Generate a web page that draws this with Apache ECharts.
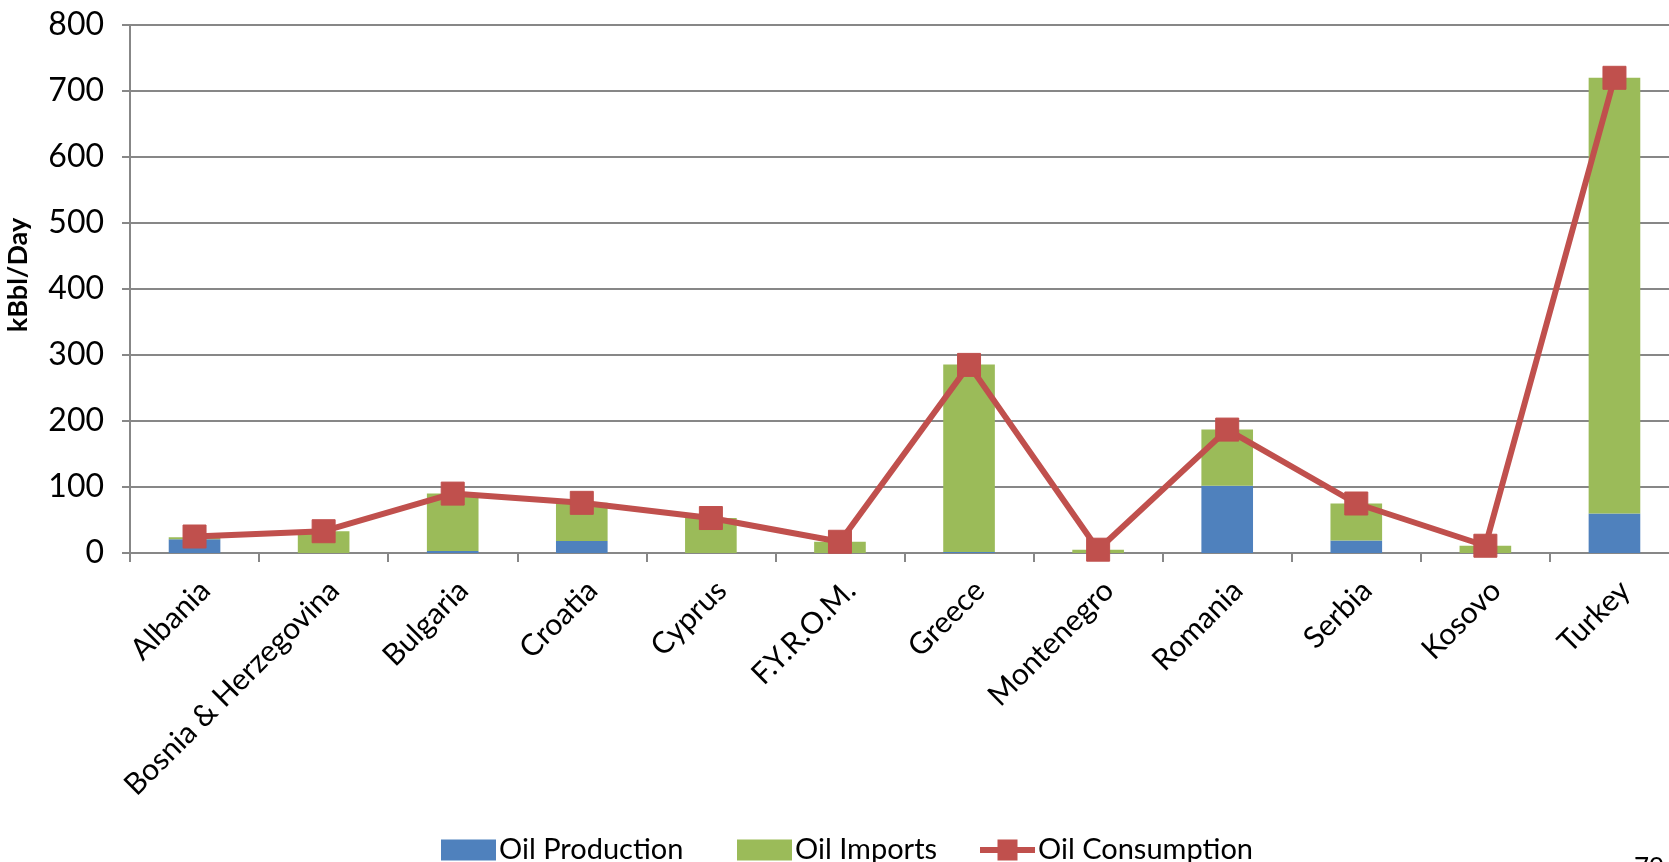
<!DOCTYPE html>
<html>
<head>
<meta charset="utf-8">
<script src="https://cdn.jsdelivr.net/npm/echarts@6/dist/echarts.min.js"></script>
<style>
  html, body { margin: 0; padding: 0; background: #ffffff; }
  #chart { width: 1669px; height: 862px; }
</style>
</head>
<body>
<div id="chart"></div>
<script>
// Oil balance by country, kBbl/Day
const countries = ['Albania', 'Bosnia & Herzegovina', 'Bulgaria', 'Croatia', 'Cyprus', 'F.Y.R.O.M.',
  'Greece', 'Montenegro', 'Romania', 'Serbia', 'Kosovo', 'Turkey'];
const oilProduction = [21, 0, 3, 18, 0, 0, 1.5, 0, 102, 19, 0, 60];
const oilImports = [3, 33, 87, 58, 53, 17, 284, 5, 85, 56, 11, 660];
const oilConsumption = [25, 33, 90, 76, 53, 17, 285, 5, 187, 75, 11, 720];
const yTicks = { min: 0, max: 800, interval: 100 };

const FONT = 'Lato, "Liberation Sans", sans-serif';
const GRID_GRAY = '#878787';
const RED = '#C0504D';

// line-with-square marker used as the consumption legend key
const LINE_KEY = 'path://M0,7.5H17.5V0H37.5V7.5H55V13.5H37.5V21H17.5V13.5H0Z';

function legendAt(left, name, icon) {
  return {
    left: left,
    top: 829,
    itemWidth: 55,
    itemHeight: 21,
    textStyle: { fontFamily: FONT, fontSize: 29, lineHeight: 32, color: '#000000', padding: [0, 0, 0, -2] },
    data: [{ name: name, icon: icon }]
  };
}

const chart = echarts.init(document.getElementById('chart'), null, { renderer: 'canvas' });

chart.setOption({
  backgroundColor: '#ffffff',
  animation: false,
  grid: { left: 130, top: 25, width: 1549, height: 528, outerBoundsMode: 'none', containLabel: false },
  legend: [
    legendAt(436, 'Oil Production', 'rect'),
    legendAt(732, 'Oil Imports', 'rect'),
    legendAt(975, 'Oil Consumption', LINE_KEY)
  ],
  xAxis: {
    type: 'category',
    data: countries,
    axisLine: { lineStyle: { color: GRID_GRAY, width: 2 } },
    axisTick: { show: true, length: 9, alignWithLabel: false, lineStyle: { color: GRID_GRAY, width: 2 } },
    axisLabel: {
      rotate: 45,
      interval: 0,
      margin: 22,
      verticalAlign: 'top',
      fontFamily: FONT,
      fontSize: 30,
      color: '#000000'
    }
  },
  yAxis: {
    type: 'value',
    min: yTicks.min,
    max: yTicks.max,
    interval: yTicks.interval,
    axisLine: { show: true, lineStyle: { color: GRID_GRAY, width: 2 } },
    axisTick: { show: true, length: 8, lineStyle: { color: GRID_GRAY, width: 2 } },
    axisLabel: { fontFamily: FONT, fontSize: 32, color: '#000000', margin: 26 },
    splitLine: { show: true, lineStyle: { color: GRID_GRAY, width: 2 } }
  },
  series: [
    {
      name: 'Oil Production',
      type: 'bar',
      stack: 'supply',
      data: oilProduction,
      barWidth: '40%',
      itemStyle: { color: '#4F81BD' }
    },
    {
      name: 'Oil Imports',
      type: 'bar',
      stack: 'supply',
      data: oilImports,
      barWidth: '40%',
      itemStyle: { color: '#9BBB59' }
    },
    {
      name: 'Oil Consumption',
      type: 'line',
      data: oilConsumption,
      symbol: 'rect',
      symbolSize: 23,
      z: 5,
      lineStyle: { color: RED, width: 6 },
      itemStyle: { color: RED, borderColor: RED }
    }
  ],
  graphic: [
    {
      // value-axis title
      type: 'text',
      x: 18,
      y: 275,
      rotation: Math.PI / 2,
      style: {
        text: 'kBbl/Day',
        fontFamily: FONT,
        fontSize: 27,
        fontWeight: 'bold',
        fill: '#000000',
        align: 'center',
        verticalAlign: 'middle'
      }
    },
    {
      type: 'text',
      left: 1634,
      top: 856,
      style: { text: '79', fontFamily: FONT, fontSize: 26, fill: '#000000' }
    }
  ]
});
</script>
</body>
</html>
